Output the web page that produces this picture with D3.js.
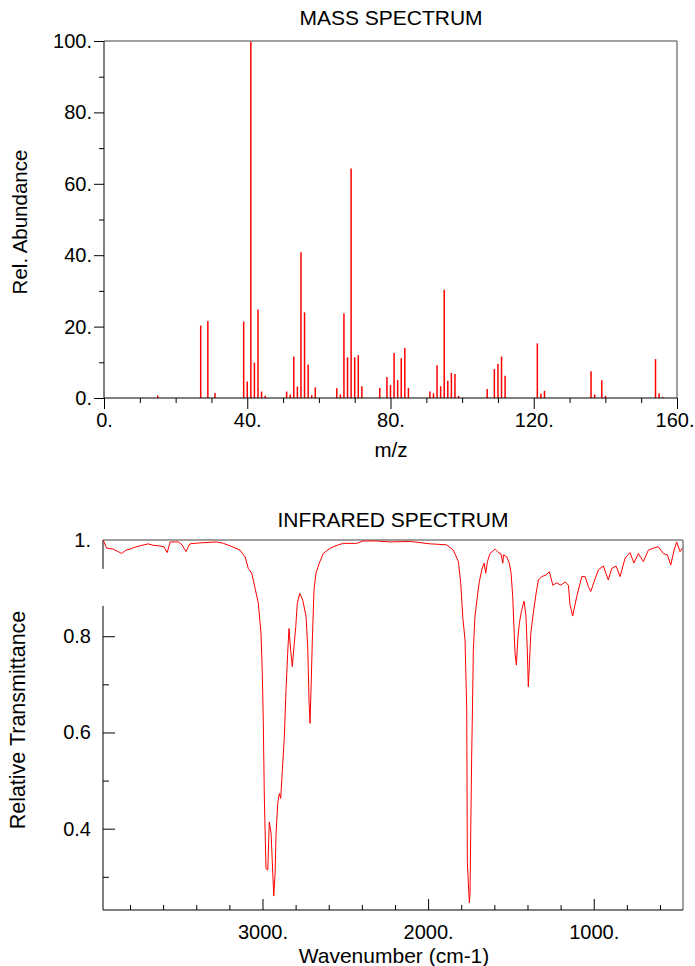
<!DOCTYPE html>
<html><head><meta charset="utf-8">
<script src="https://cdn.jsdelivr.net/npm/d3@7"></script>
<style>body{margin:0;background:#fff} svg text{font-family:"Liberation Sans",Arial,sans-serif}</style>
</head><body><svg id="c" width="695" height="966"></svg>
<script>
// ---------- Mass spectrum data ----------
const msMz = [15, 27, 29, 31, 39, 40, 41, 42, 43, 44, 45, 51, 52, 53, 54, 55, 56, 57, 58, 59,
  65, 66, 67, 68, 69, 70, 71, 72, 77, 79, 80, 81, 82, 83, 84, 85, 91, 92, 93, 94, 95, 96, 97, 98, 99,
  107, 109, 110, 111, 112, 121, 122, 123, 136, 137, 139, 140, 154, 155, 156];
const msAbundance = [0.7, 20.3, 21.6, 1.4, 21.4, 4.6, 100, 9.9, 24.8, 1.8, 0.6, 1.8, 1.0, 11.6, 3.2, 40.8, 24.0, 9.4, 0.8, 3.0,
  2.7, 1.0, 23.7, 11.4, 64.3, 11.4, 12.0, 3.3, 2.8, 5.9, 3.6, 12.6, 5.0, 11.1, 14.0, 2.8, 1.8, 1.3, 9.2, 3.3, 30.3, 4.8, 7.0, 6.7, 0.6,
  2.5, 8.1, 9.6, 11.6, 6.2, 15.3, 1.2, 2.0, 7.5, 1.0, 5.0, 0.6, 10.9, 1.3, 0.3];
const msXMajor = [0, 40, 80, 120, 160];
const msXMinor = [10, 20, 30, 50, 60, 70, 90, 100, 110, 130, 140, 150];
const msYMajor = [0, 20, 40, 60, 80, 100];
const msYMinor = [10, 30, 50, 70, 90];

// ---------- IR spectrum data ----------
const irWavenumber = [3961, 3941, 3901, 3878, 3850, 3824, 3800, 3770, 3740, 3689, 3661, 3629, 3595, 3575, 3558, 3508, 3486, 3462, 3438, 3377,
  3276, 3236, 3196, 3136, 3105, 3086, 3065, 3045, 3025, 3009, 3001, 2995, 2989, 2979, 2968, 2959, 2948, 2938, 2932, 2924,
  2918, 2908, 2898, 2890, 2880, 2868, 2858, 2848, 2840, 2830, 2820, 2810, 2799, 2790, 2775, 2757, 2737, 2727, 2719, 2713,
  2707, 2699, 2689, 2677, 2657, 2633, 2592, 2542, 2512, 2431, 2391, 2310, 2230, 2109, 1988, 1888, 1848, 1817, 1803, 1791,
  1777, 1767, 1763, 1751, 1747, 1741, 1737, 1732, 1727, 1717, 1703, 1691, 1676, 1662, 1652, 1642, 1626, 1596, 1576, 1560,
  1549, 1545, 1525, 1510, 1499, 1489, 1481, 1475, 1467, 1459, 1449, 1437, 1421, 1409, 1401, 1395, 1389, 1380, 1365, 1348,
  1334, 1314, 1288, 1268, 1247, 1223, 1199, 1173, 1153, 1143, 1127, 1103, 1072, 1052, 1032, 1018, 998, 972, 942, 912,
  891, 865, 841, 811, 781, 757, 731, 700, 670, 640, 610, 580, 555, 535, 515, 499, 479, 465];
const irTransmittance = [0.999, 0.983, 0.981, 0.977, 0.972, 0.979, 0.981, 0.985, 0.988, 0.992, 0.989, 0.988, 0.986, 0.974, 0.996, 0.996, 0.990, 0.976, 0.992, 0.994,
  0.996, 0.993, 0.988, 0.979, 0.965, 0.941, 0.931, 0.900, 0.868, 0.806, 0.723, 0.619, 0.466, 0.317, 0.314, 0.414, 0.390, 0.308, 0.260, 0.307,
  0.390, 0.453, 0.473, 0.463, 0.522, 0.591, 0.688, 0.764, 0.816, 0.771, 0.737, 0.778, 0.820, 0.868, 0.889, 0.875, 0.841, 0.778, 0.667, 0.619,
  0.688, 0.792, 0.896, 0.931, 0.952, 0.972, 0.983, 0.990, 0.993, 0.993, 0.998, 0.998, 0.996, 0.997, 0.992, 0.990, 0.979, 0.955, 0.910, 0.841,
  0.792, 0.653, 0.328, 0.246, 0.266, 0.439, 0.549, 0.653, 0.771, 0.841, 0.882, 0.913, 0.938, 0.952, 0.931, 0.955, 0.972, 0.981, 0.974, 0.971,
  0.952, 0.969, 0.965, 0.952, 0.931, 0.882, 0.813, 0.764, 0.740, 0.792, 0.827, 0.851, 0.873, 0.841, 0.771, 0.695, 0.737, 0.806, 0.848, 0.889,
  0.917, 0.924, 0.927, 0.934, 0.906, 0.911, 0.906, 0.913, 0.906, 0.865, 0.842, 0.882, 0.924, 0.924, 0.903, 0.893, 0.913, 0.938, 0.946, 0.917,
  0.941, 0.946, 0.924, 0.962, 0.974, 0.952, 0.972, 0.955, 0.979, 0.983, 0.986, 0.972, 0.969, 0.948, 0.979, 0.996, 0.976, 0.983];
const irXMajor = [3000, 2000, 1000];
const irXMinor = [3800, 3600, 3400, 3200, 2800, 2600, 2400, 2200, 1800, 1600, 1400, 1200, 800, 600];
const irYMajor = [1.0, 0.8, 0.6, 0.4];
const irYMinor = [0.7, 0.5, 0.3];
const irAxisGap = [0.94, 0.863];

const FONT = 20;
const svg = d3.select("#c");
svg.append("rect").attr("width", 695).attr("height", 966).attr("fill", "#fff");

function styleAxis(g) {
  g.select(".domain").remove();
  g.selectAll("line").attr("stroke", "#000");
  g.selectAll("text").attr("font-size", FONT).attr("fill", "#000")
    .attr("font-family", '"Liberation Sans", Arial, sans-serif');
}

// ================= MASS SPECTRUM =================
const mx = d3.scaleLinear().domain([0, 160]).range([104, 677]);
const my = d3.scaleLinear().domain([0, 100]).range([398, 41]);

svg.append("g").selectAll("line").data(msMz).join("line")
  .attr("x1", d => mx(d)).attr("x2", d => mx(d))
  .attr("y1", my(0)).attr("y2", (d, i) => my(msAbundance[i]))
  .attr("stroke", "#ff0000").attr("stroke-width", 1.5);

// frame
svg.append("line").attr("x1", mx(0)).attr("x2", mx(160)).attr("y1", my(100)).attr("y2", my(100))
  .attr("stroke", "#808080").attr("stroke-width", 1.5);
svg.append("line").attr("x1", mx(160)).attr("x2", mx(160)).attr("y1", my(100)).attr("y2", my(0))
  .attr("stroke", "#808080").attr("stroke-width", 1.5);
svg.append("line").attr("x1", mx(0)).attr("x2", mx(0)).attr("y1", my(100)).attr("y2", my(0))
  .attr("stroke", "#000").attr("stroke-width", 1);
svg.append("line").attr("x1", mx(0)).attr("x2", mx(160)).attr("y1", my(0)).attr("y2", my(0))
  .attr("stroke", "#000").attr("stroke-width", 1);

svg.append("g").attr("transform", `translate(0,${my(0)})`)
  .call(d3.axisBottom(mx).tickValues(msXMajor).tickSize(11).tickPadding(4).tickFormat(d => d + "."))
  .call(styleAxis)
  .call(g => g.selectAll(".tick").filter(d => d === 160).select("text").attr("text-anchor", "end").attr("dx", 17));
svg.append("g").attr("transform", `translate(0,${my(0)})`)
  .call(d3.axisBottom(mx).tickValues(msXMinor).tickSize(5).tickFormat(""))
  .call(styleAxis);
svg.append("g").attr("transform", `translate(${mx(0)},0)`)
  .call(d3.axisLeft(my).tickValues(msYMajor).tickSize(10).tickPadding(2).tickFormat(d => d + "."))
  .call(styleAxis);
svg.append("g").attr("transform", `translate(${mx(0)},0)`)
  .call(d3.axisLeft(my).tickValues(msYMinor).tickSize(5).tickFormat(""))
  .call(styleAxis);

svg.append("text").attr("x", 391).attr("y", 25).attr("text-anchor", "middle")
  .attr("font-size", 21).text("MASS SPECTRUM");
svg.append("text").attr("x", 391).attr("y", 457).attr("text-anchor", "middle")
  .attr("font-size", 20.5).text("m/z");
svg.append("text").attr("transform", "translate(27,222) rotate(-90)").attr("text-anchor", "middle")
  .attr("font-size", 20.5).text("Rel. Abundance");

// ================= IR SPECTRUM =================
const ix = d3.scaleLinear().domain([3963, 461]).range([103, 683]);
const iy = d3.scaleLinear().domain([0.231, 1.0]).range([910, 540]);

// frame
svg.append("line").attr("x1", ix(3963)).attr("x2", ix(461)).attr("y1", iy(1)).attr("y2", iy(1))
  .attr("stroke", "#808080").attr("stroke-width", 1.5);
svg.append("line").attr("x1", ix(461)).attr("x2", ix(461)).attr("y1", iy(1)).attr("y2", iy(0.231))
  .attr("stroke", "#808080").attr("stroke-width", 1.5);
svg.append("line").attr("x1", ix(3963)).attr("x2", ix(3963)).attr("y1", iy(1)).attr("y2", iy(irAxisGap[0]))
  .attr("stroke", "#000").attr("stroke-width", 1);
svg.append("line").attr("x1", ix(3963)).attr("x2", ix(3963)).attr("y1", iy(irAxisGap[1])).attr("y2", iy(0.231))
  .attr("stroke", "#000").attr("stroke-width", 1);
svg.append("line").attr("x1", ix(3963)).attr("x2", ix(461)).attr("y1", iy(0.231)).attr("y2", iy(0.231))
  .attr("stroke", "#000").attr("stroke-width", 1);

svg.append("g").attr("transform", `translate(0,${iy(0.231)})`)
  .call(d3.axisBottom(ix).tickValues(irXMajor).tickSizeInner(-11).tickSizeOuter(0).tickPadding(15).tickFormat(d => d + "."))
  .call(styleAxis);
svg.append("g").attr("transform", `translate(0,${iy(0.231)})`)
  .call(d3.axisBottom(ix).tickValues(irXMinor).tickSizeInner(-5).tickSizeOuter(0).tickFormat(""))
  .call(styleAxis);
svg.append("g").attr("transform", `translate(${ix(3963)},0)`)
  .call(d3.axisLeft(iy).tickValues(irYMajor).tickSizeInner(-12).tickSizeOuter(0).tickPadding(12)
    .tickFormat(d => d === 1 ? "1." : d3.format(".1f")(d)))
  .call(styleAxis)
  .call(g => g.selectAll(".tick").filter(d => d === 1).select("line").remove());
svg.append("g").attr("transform", `translate(${ix(3963)},0)`)
  .call(d3.axisLeft(iy).tickValues(irYMinor).tickSizeInner(-6).tickSizeOuter(0).tickFormat(""))
  .call(styleAxis);

const line = d3.line().x(d => ix(d[0])).y(d => iy(d[1]));
svg.append("path").datum(irWavenumber.map((w, i) => [w, irTransmittance[i]]))
  .attr("d", line).attr("fill", "none").attr("stroke", "#ff0000").attr("stroke-width", 1);

svg.append("text").attr("x", 393).attr("y", 527).attr("text-anchor", "middle")
  .attr("font-size", 21).text("INFRARED SPECTRUM");
svg.append("text").attr("x", 394).attr("y", 963).attr("text-anchor", "middle")
  .attr("font-size", 21).text("Wavenumber (cm-1)");
svg.append("text").attr("transform", "translate(25,720) rotate(-90)").attr("text-anchor", "middle")
  .attr("font-size", 21.5).text("Relative Transmittance");
</script></body></html>
